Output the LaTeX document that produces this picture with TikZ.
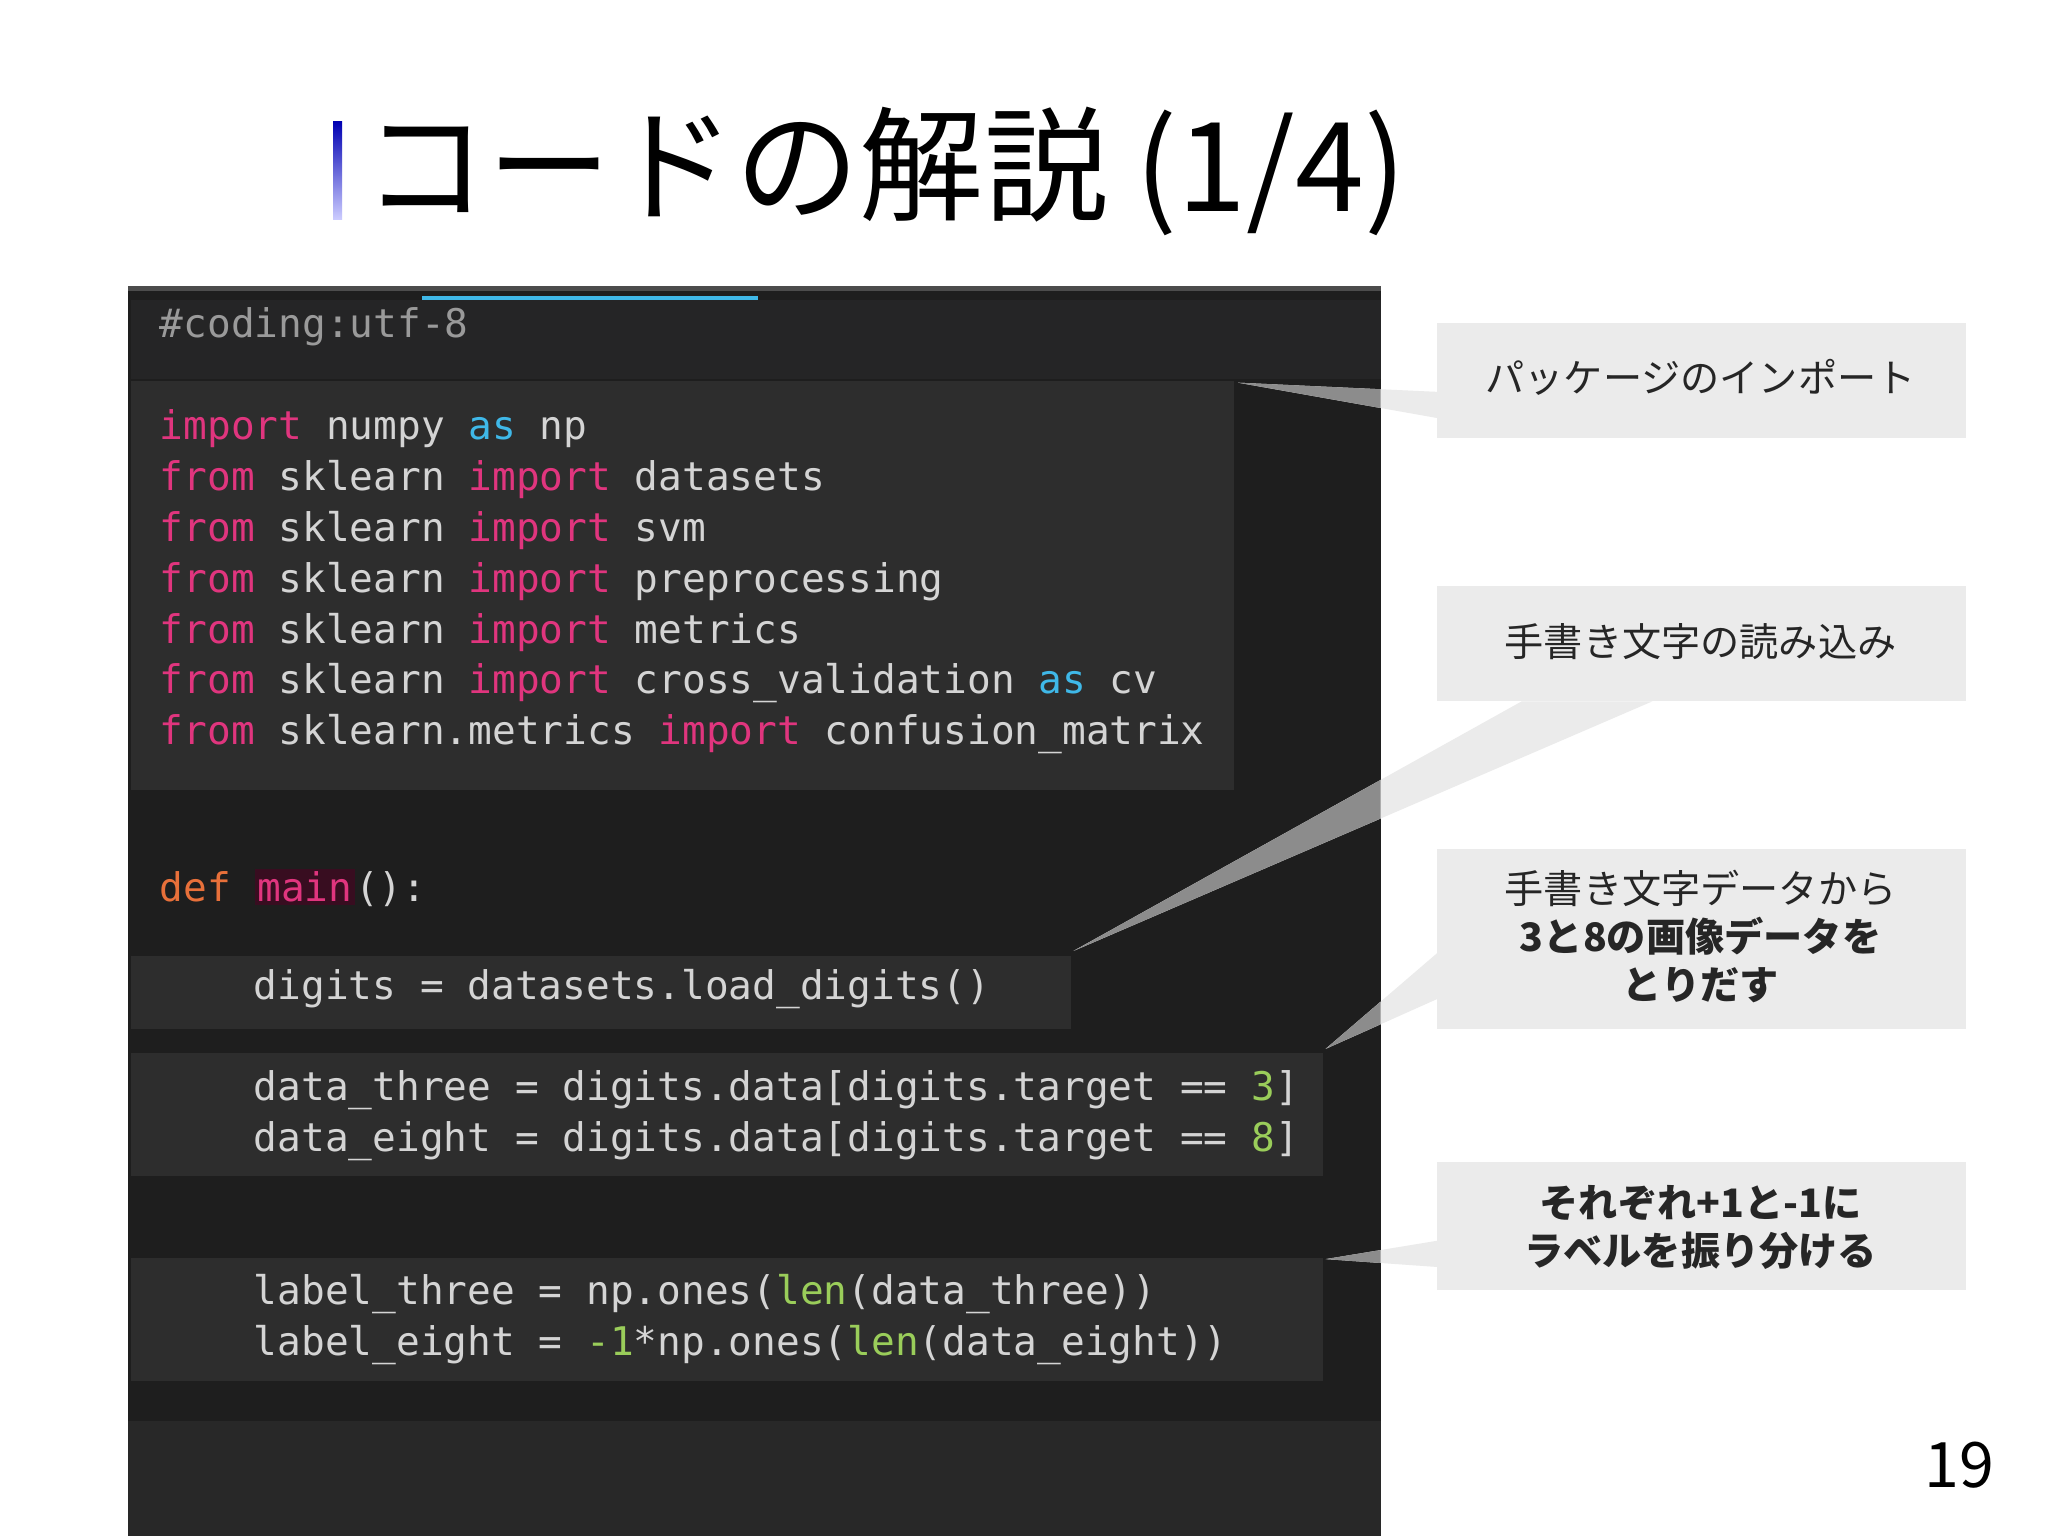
\documentclass[tikz,border=0pt]{standalone}
\usepackage{fontspec}
\setmainfont{Noto Sans CJK JP}
\setmonofont{DejaVu Sans Mono}
\newfontfamily\cjk{Noto Sans CJK JP}
\definecolor{panel}{HTML}{1E1E1E}
\definecolor{blk}{HTML}{2D2D2D}
\definecolor{hdr}{HTML}{252526}
\definecolor{bot}{HTML}{282828}
\definecolor{txt}{HTML}{D4D4D4}
\definecolor{kw}{HTML}{E0357E}
\definecolor{askw}{HTML}{3FB8E8}
\definecolor{df}{HTML}{E8703A}
\definecolor{gr}{HTML}{9ACD5A}
\definecolor{cm}{HTML}{9A9A9A}
\definecolor{call}{HTML}{EBEBEB}
\definecolor{wedge}{HTML}{8C8C8C}
\newcommand{\K}[1]{\textcolor{kw}{#1}}
\newcommand{\A}[1]{\textcolor{askw}{#1}}
\newcommand{\G}[1]{\textcolor{gr}{#1}}
\begin{document}
\begin{tikzpicture}[x=0.5pt,y=-0.5pt,
  code/.style={anchor=west,inner sep=0pt,text=txt,font=\ttfamily\fontsize{15.1}{16}\selectfont},
  ctext/.style={align=center,font=\cjk\fontsize{15}{18.5}\selectfont,text=black!85}]
\useasboundingbox (0,0) rectangle (1568,1176);
\fill[white] (0,0) rectangle (1568,1176);
% title
\shade[top color=blue!70!black,bottom color=blue!20] (255,93) rectangle (262,168);
\node[anchor=base west,inner sep=0pt,font=\cjk\fontsize{47.5}{50}\selectfont] (title) at (278,162) {コードの解説 (1/4)};
% panel
\fill[panel] (98,220) rectangle (1057,1176);
\fill[hdr] (100,230) rectangle (1057,290);
\fill[black!70] (98,219) rectangle (1057,223);
\fill[askw] (323,227) rectangle (580,230);
\fill[blk] (100,292) rectangle (945,605);
\fill[blk] (100,732) rectangle (820,788);
\fill[blk] (100,806) rectangle (1013,900);
\fill[blk] (100,963) rectangle (1013,1057);
\fill[bot] (98,1088) rectangle (1057,1176);
% callout boxes
\fill[call] (1100,247) rectangle (1505,335);
\fill[call] (1100,449) rectangle (1505,537);
\fill[call] (1100,650) rectangle (1505,788);
\fill[call] (1100,890) rectangle (1505,988);
% wedges
\coordinate (p1) at (948,293);
\coordinate (p2) at (822,728);
\coordinate (p3) at (1015,803);
\coordinate (p4) at (1015,964);
\fill[call] (p1) -- (1100,300) -- (1100,320) -- cycle;
\fill[call] (p2) -- (1165,537) -- (1265,537) -- cycle;
\fill[call] (p3) -- (1100,730) -- (1100,765) -- cycle;
\fill[call] (p4) -- (1100,950) -- (1100,970) -- cycle;
\begin{scope}
\clip (98,220) rectangle (1057,1176);
\fill[wedge] (p1) -- (1100,300) -- (1100,320) -- cycle;
\fill[wedge] (p2) -- (1165,537) -- (1265,537) -- cycle;
\fill[wedge] (p3) -- (1100,730) -- (1100,765) -- cycle;
\fill[wedge] (p4) -- (1100,950) -- (1100,970) -- cycle;
\end{scope}
\node[ctext] (t1) at (1302,289) {パッケージのインポート};
\node[ctext] (t2) at (1302,491) {手書き文字の読み込み};
\node[ctext] (t3) at (1302,717) {手書き文字データから\\\textbf{3と8の画像データを}\\\textbf{とりだす}};
\node[ctext] (t4) at (1302,940) {\textbf{それぞれ+1と-1に}\\\textbf{ラベルを振り分ける}};
% code
\node[code,text=cm] (l0) at (122,250) {\#coding:utf-8};
\node[code] (l1) at (122,328) {\K{import} numpy \A{as} np};
\node[code] (l2) at (122,367) {\K{from} sklearn \K{import} datasets};
\node[code] (l3) at (122,406) {\K{from} sklearn \K{import} svm};
\node[code] (l4) at (122,445) {\K{from} sklearn \K{import} preprocessing};
\node[code] (l5) at (122,484) {\K{from} sklearn \K{import} metrics};
\node[code] (l6) at (122,523) {\K{from} sklearn \K{import} cross\_validation \A{as} cv};
\node[code] (l7) at (122,562) {\K{from} sklearn.metrics \K{import} confusion\_matrix};
\node[code] (l8) at (122,680) {\textcolor{df}{def} {\setlength{\fboxsep}{1pt}\colorbox{kw!25!black}{\K{main}}}():};
\node[code] (l9) at (194,757) {digits = datasets.load\_digits()};
\node[code] (l10) at (194,835) {data\_three = digits.data[digits.target == \G{3}]};
\node[code] (l11) at (194,874) {data\_eight = digits.data[digits.target == \G{8}]};
\node[code] (l12) at (194,991) {label\_three = np.ones(\G{len}(data\_three))};
\node[code] (l13) at (194,1030) {label\_eight = \G{-1}*np.ones(\G{len}(data\_eight))};
\node[anchor=center,font=\cjk\fontsize{24}{26}\selectfont] (pg) at (1500,1122) {19};
\end{tikzpicture}
\end{document}
